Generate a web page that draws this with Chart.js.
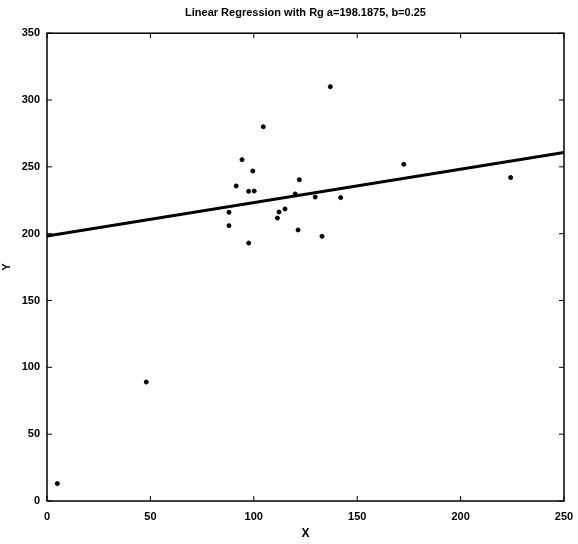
<!DOCTYPE html>
<html>
<head>
<meta charset="utf-8">
<script src="https://cdn.jsdelivr.net/npm/chart.js@4.4.0/dist/chart.umd.min.js"></script>
<style>
  html, body { margin: 0; padding: 0; background: #fff; }
</style>
</head>
<body>
<canvas id="myChart" width="578" height="544"></canvas>
<script>
// scatter data
const xVals = [5, 48, 88, 88, 91.5, 94.3, 97.5, 97.5, 99.5, 100.2, 104.6, 111.4, 112.2, 115.1, 120, 121.4, 122, 129.7, 133, 137, 142, 172.5, 224.2];
const yVals = [13, 89, 216, 206, 235.7, 255.4, 231.7, 193, 246.9, 231.9, 280, 211.7, 216.2, 218.5, 229.7, 202.8, 240.4, 227.4, 198, 310, 227, 251.9, 242];

// fitted line endpoints (a=198.1875, b=0.25)
const lineX = [0, 250];
const lineY = [198.1875, 260.6875];

const xTicks = [0, 50, 100, 150, 200, 250];
const yTicks = [0, 50, 100, 150, 200, 250, 300, 350];

const titleText = 'Linear Regression with Rg a=198.1875, b=0.25';

// matlab style box with inward ticks
const boxTicks = {
    id: 'boxTicks',
    afterDatasetsDraw(chart) {
        const { ctx, chartArea: a, scales: { x, y } } = chart;
        ctx.save();
        ctx.strokeStyle = '#000';
        ctx.lineWidth = 1.5;
        ctx.strokeRect(a.left, a.top, a.right - a.left, a.bottom - a.top);
        ctx.lineWidth = 1;
        ctx.beginPath();
        xTicks.forEach(v => {
            const px = x.getPixelForValue(v);
            ctx.moveTo(px, a.bottom); ctx.lineTo(px, a.bottom - 5);
            ctx.moveTo(px, a.top); ctx.lineTo(px, a.top + 5);
        });
        yTicks.forEach(v => {
            const py = y.getPixelForValue(v);
            ctx.moveTo(a.left, py); ctx.lineTo(a.left + 5, py);
            ctx.moveTo(a.right, py); ctx.lineTo(a.right - 5, py);
        });
        ctx.stroke();
        ctx.restore();
    }
};

const ctx = document.getElementById('myChart').getContext('2d');
new Chart(ctx, {
    type: 'scatter',
    data: {
        datasets: [
            {
                data: xVals.map((v, i) => ({ x: v, y: yVals[i] })),
                backgroundColor: '#000',
                borderColor: '#000',
                pointRadius: 2,
                pointHoverRadius: 2
            },
            {
                type: 'line',
                data: lineX.map((v, i) => ({ x: v, y: lineY[i] })),
                borderColor: '#000',
                borderWidth: 3,
                pointRadius: 0,
                fill: false
            }
        ]
    },
    options: {
        responsive: false,
        animation: false,
        layout: { padding: { right: 14 } },
        scales: {
            x: {
                type: 'linear',
                min: 0,
                max: 250,
                afterBuildTicks: s => { s.ticks = xTicks.map(v => ({ value: v })); },
                afterFit: s => { s.height = 43; s.paddingLeft = 0; s.paddingRight = 0; },
                grid: { display: false, drawTicks: false },
                border: { display: false },
                ticks: {
                    color: '#000',
                    padding: 9,
                    maxRotation: 0,
                    font: { family: 'Liberation Sans, Arial', size: 11, weight: 'bold' }
                },
                title: {
                    display: true,
                    text: 'X',
                    color: '#000',
                    padding: { top: 0, bottom: 3 },
                    font: { family: 'Liberation Sans, Arial', size: 12, weight: 'bold' }
                }
            },
            y: {
                min: 0,
                max: 350,
                afterBuildTicks: s => { s.ticks = yTicks.map(v => ({ value: v })); },
                afterFit: s => { s.width = 47; },
                grid: { display: false, drawTicks: false },
                border: { display: false },
                ticks: {
                    color: '#000',
                    padding: 7,
                    font: { family: 'Liberation Sans, Arial', size: 11, weight: 'bold' }
                },
                title: {
                    display: true,
                    text: 'Y',
                    color: '#000',
                    padding: { top: 0, bottom: 1 },
                    font: { family: 'Liberation Sans, Arial', size: 11, weight: 'bold' }
                }
            }
        },
        plugins: {
            legend: { display: false },
            tooltip: { enabled: false },
            title: {
                display: true,
                text: titleText,
                fullSize: false,
                color: '#000',
                padding: { top: 6, bottom: 14 },
                font: { family: 'Liberation Sans, Arial', size: 11, weight: 'bold', lineHeight: 1.2 }
            }
        }
    },
    plugins: [boxTicks]
});
</script>
</body>
</html>
